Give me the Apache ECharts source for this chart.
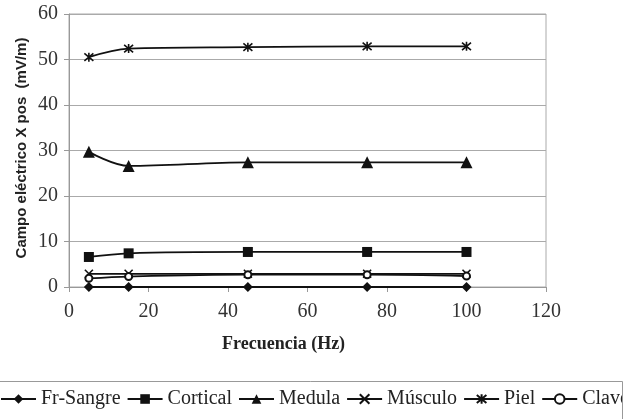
<!DOCTYPE html>
<html><head><meta charset="utf-8">
<script src="https://cdn.jsdelivr.net/npm/echarts@6/dist/echarts.min.js"></script>
<style>html,body{margin:0;padding:0;background:#fff;}#c{width:627px;height:419px;}</style>
</head><body><div id="c"></div>
<script>
var freq = [5, 15, 45, 75, 100];
var frSangre = [0, 0, 0, 0, 0];
var cortical = [6.6, 7.4, 7.7, 7.7, 7.7];
var medula = [29.7, 26.6, 27.4, 27.4, 27.4];
var musculo = [2.9, 2.9, 2.9, 2.9, 2.9];
var piel = [50.5, 52.4, 52.7, 52.9, 52.9];
var clavo = [1.9, 2.3, 2.7, 2.7, 2.4];
var seriesNames = ['Fr-Sangre', 'Cortical', 'Medula', 'Músculo', 'Piel', 'Clavo'];
var xTicks = [0, 20, 40, 60, 80, 100, 120];
var yTicks = [0, 10, 20, 30, 40, 50, 60];

var symX = 'path://M0,0L10,10M10,0L0,10';
var symAst = 'path://M0,0L10,10M10,0L0,10M5,-1L5,11';

function pts(v){ return freq.map(function(f,i){ return [f, v[i]]; }); }

var defs = [
  {data: frSangre, symbol: 'diamond', size: 10},
  {data: cortical, symbol: 'rect', size: 10},
  {data: medula, symbol: 'triangle', size: 12},
  {data: musculo, symbol: symX, size: 8, stroke: true},
  {data: piel, symbol: symAst, size: 9, stroke: true},
  {data: clavo, symbol: 'emptyCircle', size: 7, empty: true}
];

var series = defs.map(function(d, i){
  var s = {
    name: seriesNames[i], type: 'line', data: pts(d.data), smooth: 0.35,
    symbol: d.symbol, symbolSize: d.size, showAllSymbol: true,
    lineStyle: {color: '#111', width: 1.8},
    itemStyle: {color: '#111'},
    emphasis: {disabled: true}, z: 3 + i
  };
  if (d.stroke) s.itemStyle = {color: 'rgba(0,0,0,0)', borderColor: '#111', borderWidth: 1.6};
  if (d.empty) s.itemStyle = {color: '#111', borderColor: '#111', borderWidth: 1.4};
  return s;
});

var chart = echarts.init(document.getElementById('c'), null, {renderer: 'canvas'});
chart.setOption({
  animation: false,
  backgroundColor: '#fff',
  grid: {left: 69, right: 81, top: 14, bottom: 132, show: true, borderColor: '#aaa', borderWidth: 1},
  xAxis: {
    type: 'value', min: xTicks[0], max: xTicks[xTicks.length-1], interval: 20,
    axisLine: {show: true, lineStyle: {color: '#999'}},
    axisTick: {show: true, length: 5, lineStyle: {color: '#999'}},
    splitLine: {show: false},
    axisLabel: {color: '#333', fontFamily: 'Liberation Serif', fontSize: 20, margin: 15}
  },
  yAxis: {
    type: 'value', min: yTicks[0], max: yTicks[yTicks.length-1], interval: 10,
    axisLine: {show: true, lineStyle: {color: '#999'}},
    axisTick: {show: true, length: 5, lineStyle: {color: '#999'}},
    splitLine: {show: true, lineStyle: {color: '#aaa', width: 1}},
    axisLabel: {color: '#333', fontFamily: 'Liberation Serif', fontSize: 20, margin: 11}
  },
  legend: {
    left: -5, top: 381, width: 900,
    orient: 'horizontal',
    itemWidth: 35, itemHeight: 12, itemGap: 6,
    padding: [8, 5, 8, 5],
    textStyle: {fontFamily: 'Liberation Serif', fontSize: 20, color: '#222'},
    data: seriesNames
  },
  graphic: [
    {type: 'text', left: 222, top: 335, style: {text: 'Frecuencia (Hz)', font: 'bold 18px "Liberation Serif"', fill: '#222'}},
    {type: 'text', x: 22, y: 148, rotation: Math.PI/2,
     style: {text: 'Campo eléctrico X pos  (mV/m)', font: 'bold 15px "Liberation Sans"', fill: '#222', align: 'center', verticalAlign: 'middle'}},
    {type: 'rect', z: 100, silent: true, shape: {x: 622.5, y: 381.5, width: 20, height: 60}, style: {fill: '#fff'}},
    {type: 'rect', z: 101, silent: true, shape: {x: -5.5, y: 381.5, width: 628, height: 60}, style: {fill: null, stroke: '#999', lineWidth: 1}}
  ],
  series: series
});
</script>
</body></html>
